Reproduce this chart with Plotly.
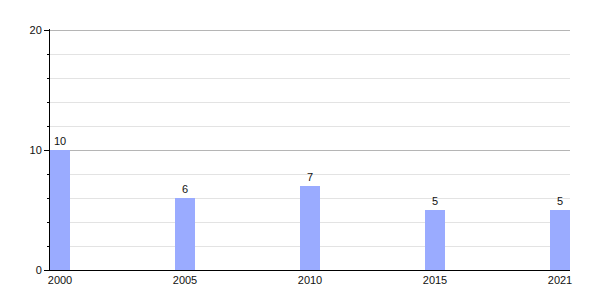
import plotly.graph_objects as go

years = ["2000", "2005", "2010", "2015", "2021"]
values = [10, 6, 7, 5, 5]

fig = go.Figure(go.Bar(
    x=years, y=values,
    width=0.16,
    marker=dict(color="#9aabff", line=dict(width=0)),
    text=[str(v) for v in values],
    textposition="outside",
    textfont=dict(size=11, color="#111111"),
    cliponaxis=False,
))

fig.update_layout(
    width=600, height=300,
    margin=dict(l=50, r=30, t=29, b=30),
    paper_bgcolor="white", plot_bgcolor="white",
    font=dict(family="Liberation Sans, Arial, sans-serif", size=11, color="#111111"),
    showlegend=False,
    bargap=0,
)
fig.update_xaxes(
    type="category", range=[-0.08, 4.08],
    showline=True, linecolor="black", linewidth=1,
    showgrid=False, ticks="", ticklen=0,
    tickfont=dict(size=11),
)
fig.update_yaxes(
    range=[0, 20.1], tickvals=[0, 10, 20],
    showline=True, linecolor="black", linewidth=1,
    showgrid=True, gridcolor="#b5b5b5", gridwidth=1,
    ticks="outside", ticklen=5, tickcolor="black",
    minor=dict(dtick=2, showgrid=True, gridcolor="#e3e3e3", ticks="outside", ticklen=2, tickcolor="black"),
    zeroline=False,
    tickfont=dict(size=11),
)

fig.write_html("out.html")
